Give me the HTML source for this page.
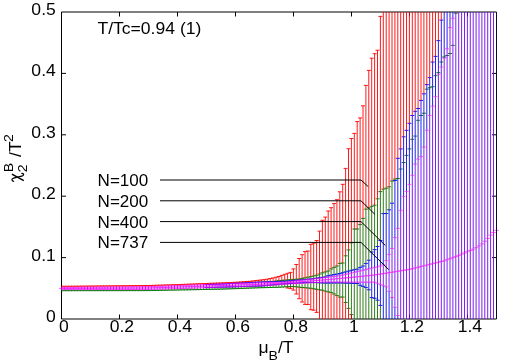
<!DOCTYPE html>
<html><head><meta charset="utf-8"><title>chart</title>
<style>html,body{margin:0;padding:0;background:#fff;}body{width:514px;height:364px;overflow:hidden;position:relative;font-family:"Liberation Sans",sans-serif;}</style>
</head><body>
<svg width="514" height="364" viewBox="0 0 514 364" style="position:absolute;left:0;top:0">
<rect width="514" height="364" fill="#ffffff"/>
<path d="M61.5 12.0H496.5V319.0H61.5Z" stroke="#000" stroke-width="1" fill="none"/>
<path d="M119.5 319.0v-4.5M119.5 12.0v4.5M177.5 319.0v-4.5M177.5 12.0v4.5M235.5 319.0v-4.5M235.5 12.0v4.5M293.5 319.0v-4.5M293.5 12.0v4.5M351.5 319.0v-4.5M351.5 12.0v4.5M409.5 319.0v-4.5M409.5 12.0v4.5M467.5 319.0v-4.5M467.5 12.0v4.5M61.5 257.6h4.5M496.5 257.6h-4.5M61.5 196.2h4.5M496.5 196.2h-4.5M61.5 134.8h4.5M496.5 134.8h-4.5M61.5 73.4h4.5M496.5 73.4h-4.5" stroke="#000" stroke-width="1" fill="none"/>
<path d="M61.50 286.30H63.40M62.30 286.27H66.30M65.20 286.25H69.20M68.10 286.22H72.10M71.00 286.19H75.00M73.90 286.17H77.90M76.80 286.14H80.80M79.70 286.11H83.70M82.60 286.09H86.60M85.50 286.06H89.50M88.40 286.03H92.40M91.30 286.01H95.30M94.20 285.98H98.20M97.10 285.95H101.10M100.00 285.93H104.00M102.90 285.90H106.90M105.80 285.87H109.80M108.70 285.85H112.70M111.60 285.82H115.60M114.50 285.79H118.50M117.40 285.77H121.40M120.30 285.74H124.30M123.20 285.71H127.20M126.10 285.69H130.10M129.00 285.66H133.00M131.90 285.63H135.90M134.80 285.61H138.80M137.70 285.58H141.70M140.60 285.55H144.60M143.50 285.53H147.50M146.40 285.50H150.40M149.30 285.41H153.30M152.20 285.32H156.20M155.10 285.23H159.10M158.00 285.14H162.00M160.90 285.05H164.90M163.80 284.96H167.80M166.70 284.87H170.70M169.60 284.78H173.60M172.50 284.69H176.50M175.40 284.60H179.40M178.30 284.49H182.30M181.20 284.38H185.20M184.10 284.26H188.10M187.00 284.15H191.00M189.90 284.04H193.90M192.80 283.93H196.80M195.70 283.81H199.70M198.60 283.70H202.60M201.50 283.59H205.50M204.40 283.48H208.40M207.30 283.36H211.30M210.20 283.25H214.20M213.10 283.14H217.10M216.00 283.03H220.00M218.90 282.91H222.90M221.80 282.80H225.80M224.70 282.68H228.70M227.60 282.55H231.60M230.50 282.43H234.50M233.40 282.30H237.40M236.30 282.10H240.30M239.20 281.90H243.20M242.10 281.70H246.10M245.00 281.50H249.00M247.90 281.30H251.90M250.80 280.96H254.80M253.70 280.62H257.70M256.60 280.28H260.60M259.50 279.94H263.50M262.40 279.60H266.40M265.30 279.20H269.30M268.20 278.50H272.20M271.10 277.90H275.10M274.00 277.20H278.00M276.90 276.50H280.90M279.80 275.40H283.80M282.70 274.30H286.70M285.60 273.30H289.60M285.60 288.00H289.60M288.50 272.40H292.50M288.50 288.60H292.50M291.40 268.90H295.40M291.40 290.10H295.40M294.30 264.50H298.30M294.30 294.00H298.30M297.20 258.50H301.20M297.20 298.70H301.20M300.10 254.70H304.10M300.10 302.00H304.10M303.00 251.60H307.00M303.00 304.40H307.00M305.90 251.00H309.90M305.90 304.50H309.90M308.80 244.40H312.80M308.80 309.70H312.80M311.70 243.20H315.70M311.70 310.20H315.70M314.60 240.50H318.60M314.60 312.40H318.60M317.50 231.10H321.50M320.40 220.30H324.40M323.30 217.10H327.30M326.20 211.00H330.20M329.10 207.70H333.10M332.00 203.60H336.00M334.90 199.70H338.90M337.80 191.80H341.80M340.70 184.30H344.70M343.60 168.40H347.60M346.50 148.70H350.50M349.40 138.50H353.40M352.30 133.40H356.30M355.20 121.60H359.20M358.10 117.90H362.10M361.00 105.80H365.00M363.90 85.40H367.90M366.80 70.40H370.80M369.70 58.20H373.70M372.60 53.70H376.60M375.50 50.20H379.50M378.40 16.40H382.40" stroke="#ff0000" stroke-width="0.9" fill="none"/>
<path d="M61.50 290.70H63.40M62.30 290.70H66.30M65.20 290.69H69.20M68.10 290.69H72.10M71.00 290.69H75.00M73.90 290.68H77.90M76.80 290.68H80.80M79.70 290.68H83.70M82.60 290.67H86.60M85.50 290.67H89.50M88.40 290.67H92.40M91.30 290.66H95.30M94.20 290.66H98.20M97.10 290.66H101.10M100.00 290.65H104.00M102.90 290.65H106.90M105.80 290.65H109.80M108.70 290.64H112.70M111.60 290.64H115.60M114.50 290.64H118.50M117.40 290.63H121.40M120.30 290.63H124.30M123.20 290.63H127.20M126.10 290.62H130.10M129.00 290.62H133.00M131.90 290.62H135.90M134.80 290.61H138.80M137.70 290.61H141.70M140.60 290.61H144.60M143.50 290.60H147.50M146.40 290.60H150.40M149.30 290.54H153.30M152.20 290.48H156.20M155.10 290.43H159.10M158.00 290.37H162.00M160.90 290.31H164.90M163.80 290.25H167.80M166.70 290.20H170.70M169.60 290.14H173.60M172.50 290.08H176.50M175.40 290.02H179.40M178.30 289.97H182.30M181.20 289.91H185.20M184.10 289.85H188.10M187.00 289.79H191.00M189.90 289.73H193.90M192.80 289.68H196.80M195.70 289.62H199.70M198.60 289.56H202.60M201.50 289.50H205.50M204.40 289.45H208.40M207.30 289.39H211.30M210.20 289.33H214.20M213.10 289.27H217.10M216.00 289.22H220.00M218.90 289.16H222.90M221.80 289.10H225.80M224.70 288.99H228.70M227.60 288.88H231.60M230.50 288.78H234.50M233.40 288.67H237.40M236.30 288.56H240.30M239.20 288.45H243.20M242.10 288.35H246.10M245.00 288.24H249.00M247.90 288.13H251.90M250.80 288.02H254.80M253.70 287.92H257.70M256.60 287.81H260.60M259.50 287.70H263.50M262.40 287.63H266.40M265.30 287.57H269.30M268.20 287.50H272.20M271.10 287.43H275.10M274.00 281.07H278.00M274.00 287.37H278.00M276.90 280.75H280.90M276.90 287.30H280.90M279.80 280.43H283.80M279.80 287.10H283.80M282.70 280.10H286.70M282.70 286.90H286.70M285.60 279.88H289.60M285.60 286.70H289.60M288.50 279.66H292.50M288.50 286.60H292.50M291.40 279.44H295.40M291.40 286.50H295.40M294.30 279.22H298.30M294.30 286.85H298.30M297.20 279.00H301.20M297.20 287.20H301.20M300.10 278.40H304.10M300.10 287.48H304.10M303.00 277.80H307.00M303.00 287.75H307.00M305.90 277.20H309.90M305.90 288.02H309.90M308.80 276.60H312.80M308.80 288.30H312.80M311.70 275.90H315.70M311.70 288.80H315.70M314.60 275.20H318.60M314.60 289.30H318.60M317.50 274.00H321.50M317.50 289.80H321.50M320.40 272.80H324.40M320.40 290.30H324.40M323.30 271.90H327.30M323.30 291.10H327.30M326.20 271.00H330.20M326.20 291.90H330.20M329.10 268.90H333.10M329.10 292.60H333.10M332.00 267.40H336.00M332.00 294.00H336.00M334.90 266.00H338.90M334.90 295.60H338.90M337.80 263.40H341.80M337.80 297.10H341.80M340.70 263.00H344.70M340.70 297.10H344.70M343.60 255.80H347.60M343.60 302.50H347.60M346.50 249.90H350.50M346.50 308.40H350.50M349.40 242.80H353.40M349.40 314.60H353.40M352.30 229.00H356.30M355.20 229.00H359.20M358.10 224.60H362.10M361.00 218.40H365.00M363.90 209.20H367.90M366.80 207.80H370.80M369.70 206.30H373.70M372.60 205.20H376.60M375.50 198.80H379.50M378.40 191.60H382.40M381.30 189.10H385.30M384.20 188.20H388.20M387.10 186.80H391.10M390.00 181.00H394.00M392.90 179.00H396.90M395.80 178.50H399.80M398.70 169.00H402.70M401.60 162.50H405.60M404.50 155.40H408.50M407.40 148.90H411.40M410.30 139.30H414.30M413.20 136.10H417.20M416.10 120.30H420.10M419.00 115.50H423.00M421.90 113.20H425.90M424.80 89.20H428.80M427.70 87.70H431.70M430.60 86.70H434.60M433.50 75.70H437.50M436.40 72.60H440.40M439.30 62.00H443.30M442.20 57.00H446.20M445.10 55.50H449.10M448.00 53.50H452.00M450.90 45.40H454.90M453.80 13.20H457.80" stroke="#007800" stroke-width="0.9" fill="none"/>
<path d="M204.40 284.52H208.40M204.40 287.65H208.40M207.30 284.42H211.30M207.30 287.56H211.30M210.20 284.32H214.20M210.20 287.47H214.20M213.10 284.21H217.10M213.10 287.38H217.10M216.00 284.11H220.00M216.00 287.28H220.00M218.90 284.00H222.90M218.90 287.19H222.90M221.80 283.90H225.80M221.80 287.10H225.80M224.70 283.75H228.70M224.70 287.02H228.70M227.60 283.59H231.60M227.60 286.93H231.60M230.50 283.44H234.50M230.50 286.85H234.50M233.40 283.28H237.40M233.40 286.76H237.40M236.30 283.13H240.30M236.30 286.68H240.30M239.20 282.98H243.20M239.20 286.59H243.20M242.10 282.82H246.10M242.10 286.51H246.10M245.00 282.67H249.00M245.00 286.42H249.00M247.90 282.52H251.90M247.90 286.34H251.90M250.80 282.36H254.80M250.80 286.25H254.80M253.70 282.21H257.70M253.70 286.17H257.70M256.60 282.05H260.60M256.60 286.08H260.60M259.50 281.90H263.50M259.50 286.00H263.50M262.40 281.81H266.40M262.40 285.73H266.40M265.30 281.72H269.30M265.30 285.45H269.30M268.20 281.64H272.20M268.20 285.18H272.20M271.10 281.55H275.10M271.10 284.90H275.10M274.00 281.46H278.00M274.00 284.62H278.00M276.90 281.38H280.90M276.90 284.35H280.90M279.80 281.29H283.80M279.80 284.07H283.80M282.70 281.20H286.70M282.70 283.80H286.70M285.60 280.96H289.60M285.60 283.63H289.60M288.50 280.71H292.50M288.50 283.47H292.50M291.40 280.47H295.40M291.40 283.30H295.40M294.30 280.22H298.30M294.30 283.13H298.30M297.20 279.98H301.20M297.20 282.97H301.20M300.10 279.73H304.10M300.10 282.80H304.10M303.00 279.49H307.00M303.00 282.63H307.00M305.90 279.24H309.90M305.90 282.47H309.90M308.80 279.00H312.80M308.80 282.30H312.80M311.70 278.58H315.70M311.70 282.46H315.70M314.60 278.16H318.60M314.60 282.62H318.60M317.50 277.74H321.50M317.50 282.78H321.50M320.40 277.32H324.40M320.40 282.94H324.40M323.30 276.90H327.30M323.30 283.10H327.30M326.20 275.70H330.20M326.20 283.06H330.20M329.10 275.15H333.10M329.10 283.02H333.10M332.00 274.60H336.00M332.00 282.98H336.00M334.90 274.05H338.90M334.90 282.94H338.90M337.80 273.50H341.80M337.80 282.90H341.80M340.70 272.70H344.70M340.70 283.00H344.70M343.60 271.90H347.60M343.60 283.10H347.60M346.50 271.10H350.50M346.50 283.20H350.50M349.40 270.30H353.40M349.40 283.30H353.40M352.30 269.70H356.30M352.30 283.40H356.30M355.20 269.10H359.20M355.20 283.50H359.20M358.10 267.40H362.10M358.10 285.30H362.10M361.00 266.00H365.00M361.00 286.40H365.00M363.90 263.40H367.90M363.90 287.60H367.90M366.80 260.20H370.80M366.80 289.80H370.80M369.70 252.00H373.70M369.70 297.60H373.70M372.60 249.60H376.60M372.60 298.30H376.60M375.50 246.50H379.50M375.50 300.20H379.50M378.40 240.50H382.40M378.40 305.40H382.40M381.30 213.60H385.30M384.20 213.50H388.20M387.10 209.80H391.10M390.00 203.20H394.00M392.90 180.50H396.90M395.80 158.30H399.80M398.70 148.90H402.70M401.60 136.80H405.60M404.50 130.30H408.50M407.40 123.30H411.40M410.30 115.50H414.30M413.20 111.30H417.20M416.10 108.50H420.10M419.00 100.40H423.00M421.90 93.80H425.90M424.80 84.60H428.80M427.70 77.60H431.70M430.60 62.00H434.60M433.50 56.40H437.50M436.40 40.60H440.40M439.30 20.10H443.30" stroke="#0000ff" stroke-width="0.9" fill="none"/>
<path d="M61.40 289.90V290.70M64.30 289.90V290.70M67.20 289.89V290.69M70.10 289.89V290.69M73.00 289.89V290.69M75.90 289.88V290.68M78.80 289.88V290.68M81.70 289.88V290.68M84.60 289.87V290.67M87.50 289.87V290.67M90.40 289.87V290.67M93.30 289.86V290.66M96.20 289.86V290.66M99.10 289.86V290.66M102.00 289.85V290.65M104.90 289.85V290.65M107.80 289.85V290.65M110.70 289.84V290.64M113.60 289.84V290.64M116.50 289.84V290.64M119.40 289.83V290.63M122.30 289.83V290.63M125.20 289.83V290.63M128.10 289.82V290.62M131.00 289.82V290.62M133.90 289.82V290.62M136.80 289.81V290.61M139.70 289.81V290.61M142.60 289.81V290.61M145.50 289.80V290.60M148.40 289.80V290.60M151.30 289.74V290.54M154.20 289.68V290.48M157.10 289.63V290.43M160.00 289.57V290.37M162.90 289.51V290.31M165.80 289.45V290.25M168.70 289.40V290.20M171.60 289.34V290.14M174.50 289.28V290.08M177.40 289.22V290.02M180.30 289.17V289.97M183.20 289.11V289.91M186.10 289.05V289.85M189.00 288.99V289.79M191.90 288.93V289.73M194.80 288.88V289.68M197.70 288.82V289.62M200.60 288.76V289.56M203.50 288.70V289.50M206.40 288.65V289.45M209.30 288.59V289.39M212.20 288.53V289.33M215.10 288.47V289.27M218.00 288.42V289.22M220.90 288.36V289.16M223.80 288.30V289.10M226.70 288.19V288.99M229.60 288.08V288.88M232.50 287.98V288.78M235.40 287.87V288.67M238.30 287.76V288.56M241.20 287.65V288.45M244.10 287.55V288.35M247.00 287.44V288.24M249.90 287.33V288.13M252.80 287.22V288.02M255.70 287.12V287.92M258.60 287.01V287.81M261.50 286.90V287.70M264.40 286.83V287.63M267.30 286.77V287.57M270.20 286.70V287.50M273.10 286.63V287.43M276.00 286.57V287.37M278.90 286.50V287.30M281.80 286.40V287.10M284.70 286.30V286.90" stroke="#007800" stroke-width="0.9" fill="none"/>
<path d="M61.40 286.30V287.40M64.30 286.27V287.37M67.20 286.25V287.35M70.10 286.22V287.32M73.00 286.19V287.29M75.90 286.17V287.27M78.80 286.14V287.24M81.70 286.11V287.21M84.60 286.09V287.19M87.50 286.06V287.16M90.40 286.03V287.13M93.30 286.01V287.11M96.20 285.98V287.08M99.10 285.95V287.05M102.00 285.93V287.03M104.90 285.90V287.00M107.80 285.87V286.97M110.70 285.85V286.95M113.60 285.82V286.92M116.50 285.79V286.89M119.40 285.77V286.87M122.30 285.74V286.84M125.20 285.71V286.81M128.10 285.69V286.79M131.00 285.66V286.76M133.90 285.63V286.73M136.80 285.61V286.71M139.70 285.58V286.68M142.60 285.55V286.65M145.50 285.53V286.63M148.40 285.50V286.60M151.30 285.41V286.50M154.20 285.32V286.39M157.10 285.23V286.29M160.00 285.14V286.18M162.90 285.05V286.08M165.80 284.96V285.98M168.70 284.87V285.87M171.60 284.78V285.77M174.50 284.69V285.67M177.40 284.60V285.56M180.30 284.49V285.46M183.20 284.38V285.35M186.10 284.26V285.25M189.00 284.15V285.15M191.90 284.04V285.04M194.80 283.93V284.94M197.70 283.81V284.83M200.60 283.70V284.73M203.50 283.59V284.63M206.40 283.48V284.52M209.30 283.36V284.42M212.20 283.25V284.32M215.10 283.14V284.21M218.00 283.03V284.11M220.90 282.91V284.00M223.80 282.80V283.90M226.70 282.68V283.75M229.60 282.55V283.59M232.50 282.43V283.44M235.40 282.30V283.28M238.30 282.10V283.13M241.20 281.90V282.98M244.10 281.70V282.82M247.00 281.50V282.67M249.90 281.30V282.52M252.80 280.96V282.36M255.70 280.62V282.21M258.60 280.28V282.05M261.50 279.94V281.90M264.40 279.60V281.77M267.30 279.20V281.65M270.20 278.50V281.52M273.10 277.90V281.40M276.00 277.20V281.07M278.90 276.50V280.75M281.80 275.40V280.43M284.70 274.30V280.10M287.60 273.30V279.88M287.60 286.70V288.00M290.50 272.40V279.66M290.50 286.60V288.60M293.40 268.90V279.44M293.40 286.50V290.10M296.30 264.50V279.22M296.30 286.85V294.00M299.20 258.50V279.00M299.20 287.20V298.70M302.10 254.70V278.40M302.10 287.48V302.00M305.00 251.60V277.80M305.00 287.75V304.40M307.90 251.00V277.20M307.90 288.02V304.50M310.80 244.40V276.60M310.80 288.30V309.70M313.70 243.20V275.90M313.70 288.80V310.20M316.60 240.50V275.20M316.60 289.30V312.40M319.50 231.10V274.00M319.50 289.80V319.00M322.40 220.30V272.80M322.40 290.30V319.00M325.30 217.10V271.90M325.30 291.10V319.00M328.20 211.00V271.00M328.20 291.90V319.00M331.10 207.70V268.90M331.10 292.60V319.00M334.00 203.60V267.40M334.00 294.00V319.00M336.90 199.70V266.00M336.90 295.60V319.00M339.80 191.80V263.40M339.80 297.10V319.00M342.70 184.30V263.00M342.70 297.10V319.00M345.60 168.40V255.80M345.60 302.50V319.00M348.50 148.70V249.90M348.50 308.40V319.00M351.40 138.50V242.80M351.40 314.60V319.00M354.30 133.40V229.00M357.20 121.60V229.00M360.10 117.90V224.60M363.00 105.80V218.40M365.90 85.40V209.20M368.80 70.40V207.80M371.70 58.20V206.30M374.60 53.70V205.20M377.50 50.20V198.80M380.40 16.40V191.60M383.30 12.00V189.10M386.20 12.00V188.20M389.10 12.00V186.80M392.00 12.00V181.00M394.90 12.00V179.00M397.80 12.00V158.30M400.70 12.00V148.90M403.60 12.00V136.80M406.50 12.00V130.30M409.40 12.00V123.30M412.30 12.00V115.50M415.20 12.00V111.30M418.10 12.00V108.50M421.00 12.00V100.40M423.90 12.00V93.80M426.80 12.00V84.60M429.70 12.00V77.60M432.60 12.00V62.00M435.50 12.00V56.40M438.40 12.00V40.60M441.30 12.00V20.10" stroke="#ff0000" stroke-width="0.9" fill="none"/>
<path d="M397.80 158.30V178.50M400.70 148.90V169.00M403.60 136.80V162.50M406.50 130.30V155.40M409.40 123.30V148.90M412.30 115.50V139.30M415.20 111.30V136.10M418.10 108.50V120.30M421.00 100.40V115.50M423.90 93.80V113.20M426.80 84.60V89.20M429.70 77.60V87.70M432.60 62.00V86.70M435.50 56.40V75.70M438.40 40.60V72.60M441.30 20.10V62.00M444.20 12.00V57.00M447.10 12.00V48.80M450.00 12.00V27.60M452.90 12.00V18.30" stroke="#1900e6" stroke-width="0.9" fill="none"/>
<path d="M447.10 48.80V55.50M450.00 27.60V53.50M452.90 18.30V45.40M455.80 12.00V13.20" stroke="#7a00f0" stroke-width="0.9" fill="none"/>
<path d="M61.40 289.60V289.90M64.30 289.60V289.90M67.20 289.59V289.89M70.10 289.59V289.89M73.00 289.59V289.89M75.90 289.58V289.88M78.80 289.58V289.88M81.70 289.58V289.88M84.60 289.57V289.87M87.50 289.57V289.87M90.40 289.57V289.87M93.30 289.56V289.86M96.20 289.56V289.86M99.10 289.56V289.86M102.00 289.55V289.85M104.90 289.55V289.85M107.80 289.55V289.85M110.70 289.54V289.84M113.60 289.54V289.84M116.50 289.54V289.84M119.40 289.53V289.83M122.30 289.53V289.83M125.20 289.53V289.83M128.10 289.52V289.82M131.00 289.52V289.82M133.90 289.52V289.82M136.80 289.51V289.81M139.70 289.51V289.81M142.60 289.51V289.81M145.50 289.50V289.80M148.40 289.50V289.80M151.30 289.41V289.74M154.20 289.32V289.68M157.10 289.22V289.63M160.00 289.13V289.57M162.90 289.04V289.51M165.80 288.95V289.45M168.70 288.85V289.40M171.60 288.76V289.34M174.50 288.67V289.28M177.40 288.58V289.22M180.30 288.48V289.17M183.20 288.39V289.11M186.10 288.30V289.05M189.00 288.21V288.99M191.90 288.12V288.93M194.80 288.02V288.88M197.70 287.93V288.82M200.60 287.84V288.76M203.50 287.75V288.70M206.40 287.65V288.65M209.30 287.56V288.59M212.20 287.47V288.53M215.10 287.38V288.47M218.00 287.28V288.42M220.90 287.19V288.36M223.80 287.10V288.30M226.70 287.02V288.19M229.60 286.93V288.08M232.50 286.85V287.98M235.40 286.76V287.87M238.30 286.68V287.76M241.20 286.59V287.65M244.10 286.51V287.55M247.00 286.42V287.44M249.90 286.34V287.33M252.80 286.25V287.22M255.70 286.17V287.12M258.60 286.08V287.01M261.50 286.00V286.90M264.40 281.77V281.81M264.40 285.73V286.83M267.30 281.65V281.72M267.30 285.45V286.77M270.20 281.52V281.64M270.20 285.20V286.70M273.10 281.40V281.55M273.10 285.00V286.63M276.00 281.07V281.46M276.00 284.80V286.57M278.90 280.75V281.38M278.90 284.60V286.50M281.80 280.43V281.29M281.80 284.40V286.40M284.70 280.10V281.20M284.70 284.20V286.30M287.60 279.88V280.96M287.60 284.04V286.70M290.50 279.66V280.71M290.50 283.89V286.60M293.40 279.44V280.47M293.40 283.73V286.50M296.30 279.22V280.22M296.30 283.57V286.85M299.20 279.00V279.98M299.20 283.41V287.20M302.10 278.40V279.73M302.10 283.26V287.48M305.00 277.80V279.49M305.00 283.10V287.75M307.90 277.20V279.24M307.90 282.94V288.02M310.80 276.60V279.00M310.80 282.79V288.30M313.70 275.90V278.58M313.70 282.63V288.80M316.60 275.20V278.16M316.60 282.62V289.30M319.50 274.00V277.74M319.50 282.78V289.80M322.40 272.80V277.32M322.40 282.94V290.30M325.30 271.90V276.90M325.30 283.10V291.10M328.20 271.00V275.70M328.20 283.06V291.90M331.10 268.90V275.15M331.10 283.02V292.60M334.00 267.40V274.60M334.00 282.98V294.00M336.90 266.00V274.05M336.90 282.94V295.60M339.80 263.40V273.50M339.80 282.90V297.10M342.70 263.00V272.70M342.70 283.00V297.10M345.60 255.80V271.90M345.60 283.10V302.50M348.50 249.90V271.10M348.50 283.20V308.40M351.40 242.80V270.30M351.40 283.30V314.60M354.30 229.00V269.70M354.30 283.40V319.00M357.20 229.00V269.10M357.20 283.50V319.00M360.10 224.60V267.40M360.10 285.30V319.00M363.00 218.40V266.00M363.00 286.40V319.00M365.90 209.20V263.40M365.90 287.60V319.00M368.80 207.80V260.20M368.80 289.80V319.00M371.70 206.30V252.00M371.70 297.60V319.00M374.60 205.20V249.60M374.60 298.30V319.00M377.50 198.80V246.50M377.50 300.20V319.00M380.40 191.60V240.50M380.40 305.40V319.00M383.30 189.10V213.60M386.20 188.20V213.50M389.10 186.80V209.80M392.00 181.00V203.20M394.90 179.00V180.50" stroke="#196c00" stroke-width="0.9" fill="none"/>
<path d="M226.70 283.75V283.82M226.70 287.00V287.02M229.60 283.59V283.73M229.60 286.90V286.93M232.50 283.44V283.65M232.50 286.80V286.85M235.40 283.28V283.56M235.40 286.70V286.76M238.30 283.13V283.48M238.30 286.60V286.68M241.20 282.98V283.39M241.20 286.50V286.59M244.10 282.82V283.31M244.10 286.40V286.51M247.00 282.67V283.22M247.00 286.30V286.42M249.90 282.52V283.14M249.90 286.20V286.34M252.80 282.36V283.05M252.80 286.10V286.25M255.70 282.21V282.97M255.70 286.00V286.17M258.60 282.05V282.88M258.60 285.90V286.08M261.50 281.90V282.80M261.50 285.80V286.00M264.40 281.81V282.70M264.40 285.60V285.73M267.30 281.72V282.60M267.30 285.40V285.45M270.20 281.64V282.50M273.10 281.55V282.40M276.00 281.46V282.30M278.90 281.38V282.20M281.80 281.29V282.10M284.70 281.20V282.00M287.60 280.96V281.68M290.50 280.71V281.36M293.40 280.47V281.04M296.30 280.22V280.71M299.20 279.98V280.39M302.10 279.73V280.07M305.00 279.49V279.75M307.90 279.24V279.43M310.80 279.00V279.11M313.70 278.58V278.79M316.60 278.16V278.46M316.60 282.47V282.62M319.50 277.74V278.14M319.50 282.31V282.78M322.40 277.32V277.82M322.40 282.16V282.94M325.30 276.90V277.50M325.30 282.00V283.10M328.20 275.70V277.14M328.20 282.02V283.06M331.10 275.15V276.78M331.10 282.04V283.02M334.00 274.60V276.42M334.00 282.07V282.98M336.90 274.05V276.06M336.90 282.09V282.94M339.80 273.50V275.70M339.80 282.11V282.90M342.70 272.70V275.02M342.70 282.13V283.00M345.60 271.90V274.35M345.60 282.16V283.10M348.50 271.10V273.68M348.50 282.18V283.20M351.40 270.30V273.00M351.40 282.20V283.30M354.30 269.70V272.32M354.30 282.20V283.40M357.20 269.10V271.64M357.20 282.20V283.50M360.10 267.40V270.96M360.10 282.20V285.30M363.00 266.00V270.28M363.00 282.20V286.40M365.90 263.40V269.60M365.90 282.20V287.60M368.80 260.20V268.87M368.80 282.20V289.80M371.70 252.00V268.13M371.70 282.20V297.60M374.60 249.60V267.40M374.60 282.20V298.30M377.50 246.50V266.80M377.50 283.30V300.20M380.40 240.50V266.00M380.40 284.60V305.40M383.30 213.60V264.70M383.30 285.70V319.00M386.20 213.50V260.60M386.20 286.80V319.00M389.10 209.80V254.40M389.10 291.30V319.00M392.00 203.20V248.50M392.00 297.40V319.00M394.90 180.50V237.60M394.90 307.30V319.00M397.80 178.50V228.40M397.80 315.50V319.00M400.70 169.00V210.40M403.60 162.50V196.40M406.50 155.40V191.40M409.40 148.90V184.40M412.30 139.30V175.40M415.20 136.10V164.10M418.10 120.30V159.20M421.00 115.50V156.60M423.90 113.20V147.10M426.80 89.20V130.30M429.70 87.70V115.50M432.60 86.70V106.20M435.50 75.70V96.60M438.40 72.60V74.30M441.30 62.00V67.10M444.20 57.00V58.00" stroke="#030be6" stroke-width="0.9" fill="none"/>
<path d="M61.40 287.40V289.60M64.30 287.37V289.60M67.20 287.35V289.59M70.10 287.32V289.59M73.00 287.29V289.59M75.90 287.27V289.58M78.80 287.24V289.58M81.70 287.21V289.58M84.60 287.19V289.57M87.50 287.16V289.57M90.40 287.13V289.57M93.30 287.11V289.56M96.20 287.08V289.56M99.10 287.05V289.56M102.00 287.03V289.55M104.90 287.00V289.55M107.80 286.97V289.55M110.70 286.95V289.54M113.60 286.92V289.54M116.50 286.89V289.54M119.40 286.87V289.53M122.30 286.84V289.53M125.20 286.81V289.53M128.10 286.79V289.52M131.00 286.76V289.52M133.90 286.73V289.52M136.80 286.71V289.51M139.70 286.68V289.51M142.60 286.65V289.51M145.50 286.63V289.50M148.40 286.60V289.50M151.30 286.50V289.41M154.20 286.39V289.32M157.10 286.29V289.22M160.00 286.18V289.13M162.90 286.08V289.04M165.80 285.98V288.95M168.70 285.87V288.85M171.60 285.77V288.76M174.50 285.67V288.67M177.40 285.56V288.58M180.30 285.46V288.48M183.20 285.35V288.39M186.10 285.25V288.30M189.00 285.15V288.21M191.90 285.04V288.12M194.80 284.94V288.02M197.70 284.83V287.93M200.60 284.73V287.84M203.50 284.63V287.75M206.40 284.52V287.65M209.30 284.42V287.56M212.20 284.32V287.47M215.10 284.21V287.38M218.00 284.11V287.28M220.90 284.00V287.19M223.80 283.90V287.10M226.70 283.82V287.00M229.60 283.73V286.90M232.50 283.65V286.80M235.40 283.56V286.70M238.30 283.48V286.60M241.20 283.39V286.50M244.10 283.31V286.40M247.00 283.22V286.30M249.90 283.14V286.20M252.80 283.05V286.10M255.70 282.97V286.00M258.60 282.88V285.90M261.50 282.80V285.80M264.40 282.70V285.60M267.30 282.60V285.40M270.20 282.50V285.18M273.10 282.40V284.90M276.00 282.30V284.62M278.90 282.20V284.35M281.80 282.10V284.07M284.70 282.00V283.80M287.60 281.68V283.63M290.50 281.36V283.47M293.40 281.04V283.30M296.30 280.71V283.13M299.20 280.39V282.97M302.10 280.07V282.80M305.00 279.75V282.63M307.90 279.43V282.47M310.80 279.11V282.30M313.70 278.79V282.46M316.60 278.46V282.47M319.50 278.14V282.31M322.40 277.82V282.16M325.30 277.50V282.00M328.20 277.14V282.02M331.10 276.78V282.04M334.00 276.42V282.07M336.90 276.06V282.09M339.80 275.70V282.11M342.70 275.02V282.13M345.60 274.35V282.16M348.50 273.68V282.18M351.40 273.00V282.20M354.30 272.32V282.20M357.20 271.64V282.20M360.10 270.96V282.20M363.00 270.28V282.20M365.90 269.60V282.20M368.80 268.87V282.20M371.70 268.13V282.20M374.60 267.40V282.20M377.50 266.80V283.30M380.40 266.00V284.60M383.30 264.70V285.70M386.20 260.60V286.80M389.10 254.40V291.30M392.00 248.50V297.40M394.90 237.60V307.30M397.80 228.40V315.50M400.70 210.40V319.00M403.60 196.40V319.00M406.50 191.40V319.00M409.40 184.40V319.00M412.30 175.40V319.00M415.20 164.10V319.00M418.10 159.20V319.00M421.00 156.60V319.00M423.90 147.10V319.00M426.80 130.30V319.00M429.70 115.50V319.00M432.60 106.20V319.00M435.50 96.60V319.00M438.40 74.30V319.00M441.30 67.10V319.00M444.20 58.00V319.00M447.10 55.50V319.00M450.00 53.50V319.00M452.90 45.40V319.00M455.80 13.20V319.00M458.70 12.00V319.00M461.60 12.00V319.00M464.50 12.00V319.00M467.40 12.00V319.00M470.30 12.00V319.00M473.20 12.00V319.00M476.10 12.00V319.00M479.00 12.00V319.00M481.90 12.00V319.00M484.80 12.00V319.00M487.70 12.00V319.00M490.60 12.00V319.00M493.50 12.00V319.00" stroke="#6d06f0" stroke-width="0.9" fill="none"/>
<path d="M270.20 285.18V285.20M273.10 284.90V285.00M276.00 284.62V284.80M278.90 284.35V284.60M281.80 284.07V284.40M284.70 283.80V284.20M287.60 283.63V284.04M290.50 283.47V283.89M293.40 283.30V283.73M296.30 283.13V283.57M299.20 282.97V283.41M302.10 282.80V283.26M305.00 282.63V283.10M307.90 282.47V282.94M310.80 282.30V282.79M313.70 282.46V282.63" stroke="#7a3f6b" stroke-width="0.9" fill="none"/>
<path d="M61.50 287.40H63.40M61.50 289.60H63.40M62.30 287.37H66.30M62.30 289.60H66.30M65.20 287.35H69.20M65.20 289.59H69.20M68.10 287.32H72.10M68.10 289.59H72.10M71.00 287.29H75.00M71.00 289.59H75.00M73.90 287.27H77.90M73.90 289.58H77.90M76.80 287.24H80.80M76.80 289.58H80.80M79.70 287.21H83.70M79.70 289.58H83.70M82.60 287.19H86.60M82.60 289.57H86.60M85.50 287.16H89.50M85.50 289.57H89.50M88.40 287.13H92.40M88.40 289.57H92.40M91.30 287.11H95.30M91.30 289.56H95.30M94.20 287.08H98.20M94.20 289.56H98.20M97.10 287.05H101.10M97.10 289.56H101.10M100.00 287.03H104.00M100.00 289.55H104.00M102.90 287.00H106.90M102.90 289.55H106.90M105.80 286.97H109.80M105.80 289.55H109.80M108.70 286.95H112.70M108.70 289.54H112.70M111.60 286.92H115.60M111.60 289.54H115.60M114.50 286.89H118.50M114.50 289.54H118.50M117.40 286.87H121.40M117.40 289.53H121.40M120.30 286.84H124.30M120.30 289.53H124.30M123.20 286.81H127.20M123.20 289.53H127.20M126.10 286.79H130.10M126.10 289.52H130.10M129.00 286.76H133.00M129.00 289.52H133.00M131.90 286.73H135.90M131.90 289.52H135.90M134.80 286.71H138.80M134.80 289.51H138.80M137.70 286.68H141.70M137.70 289.51H141.70M140.60 286.65H144.60M140.60 289.51H144.60M143.50 286.63H147.50M143.50 289.50H147.50M146.40 286.60H150.40M146.40 289.50H150.40M149.30 286.50H153.30M149.30 289.41H153.30M152.20 286.39H156.20M152.20 289.32H156.20M155.10 286.29H159.10M155.10 289.22H159.10M158.00 286.18H162.00M158.00 289.13H162.00M160.90 286.08H164.90M160.90 289.04H164.90M163.80 285.98H167.80M163.80 288.95H167.80M166.70 285.87H170.70M166.70 288.85H170.70M169.60 285.77H173.60M169.60 288.76H173.60M172.50 285.67H176.50M172.50 288.67H176.50M175.40 285.56H179.40M175.40 288.58H179.40M178.30 285.46H182.30M178.30 288.48H182.30M181.20 285.35H185.20M181.20 288.39H185.20M184.10 285.25H188.10M184.10 288.30H188.10M187.00 285.15H191.00M187.00 288.21H191.00M189.90 285.04H193.90M189.90 288.12H193.90M192.80 284.94H196.80M192.80 288.02H196.80M195.70 284.83H199.70M195.70 287.93H199.70M198.60 284.73H202.60M198.60 287.84H202.60M201.50 284.63H205.50M201.50 287.75H205.50M204.40 284.52H208.40M204.40 287.65H208.40M207.30 284.42H211.30M207.30 287.56H211.30M210.20 284.32H214.20M210.20 287.47H214.20M213.10 284.21H217.10M213.10 287.38H217.10M216.00 284.11H220.00M216.00 287.28H220.00M218.90 284.00H222.90M218.90 287.19H222.90M221.80 283.90H225.80M221.80 287.10H225.80M224.70 283.82H228.70M224.70 287.00H228.70M227.60 283.73H231.60M227.60 286.90H231.60M230.50 283.65H234.50M230.50 286.80H234.50M233.40 283.56H237.40M233.40 286.70H237.40M236.30 283.48H240.30M236.30 286.60H240.30M239.20 283.39H243.20M239.20 286.50H243.20M242.10 283.31H246.10M242.10 286.40H246.10M245.00 283.22H249.00M245.00 286.30H249.00M247.90 283.14H251.90M247.90 286.20H251.90M250.80 283.05H254.80M250.80 286.10H254.80M253.70 282.97H257.70M253.70 286.00H257.70M256.60 282.88H260.60M256.60 285.90H260.60M259.50 282.80H263.50M259.50 285.80H263.50M262.40 282.70H266.40M262.40 285.60H266.40M265.30 282.60H269.30M265.30 285.40H269.30M268.20 282.50H272.20M268.20 285.20H272.20M271.10 282.40H275.10M271.10 285.00H275.10M274.00 282.30H278.00M274.00 284.80H278.00M276.90 282.20H280.90M276.90 284.60H280.90M279.80 282.10H283.80M279.80 284.40H283.80M282.70 282.00H286.70M282.70 284.20H286.70M285.60 281.68H289.60M285.60 284.04H289.60M288.50 281.36H292.50M288.50 283.89H292.50M291.40 281.04H295.40M291.40 283.73H295.40M294.30 280.71H298.30M294.30 283.57H298.30M297.20 280.39H301.20M297.20 283.41H301.20M300.10 280.07H304.10M300.10 283.26H304.10M303.00 279.75H307.00M303.00 283.10H307.00M305.90 279.43H309.90M305.90 282.94H309.90M308.80 279.11H312.80M308.80 282.79H312.80M311.70 278.79H315.70M311.70 282.63H315.70M314.60 278.46H318.60M314.60 282.47H318.60M317.50 278.14H321.50M317.50 282.31H321.50M320.40 277.82H324.40M320.40 282.16H324.40M323.30 277.50H327.30M323.30 282.00H327.30M326.20 277.14H330.20M326.20 282.02H330.20M329.10 276.78H333.10M329.10 282.04H333.10M332.00 276.42H336.00M332.00 282.07H336.00M334.90 276.06H338.90M334.90 282.09H338.90M337.80 275.70H341.80M337.80 282.11H341.80M340.70 275.02H344.70M340.70 282.13H344.70M343.60 274.35H347.60M343.60 282.16H347.60M346.50 273.68H350.50M346.50 282.18H350.50M349.40 273.00H353.40M349.40 282.20H353.40M352.30 272.32H356.30M352.30 282.20H356.30M355.20 271.64H359.20M355.20 282.20H359.20M358.10 270.96H362.10M358.10 282.20H362.10M361.00 270.28H365.00M361.00 282.20H365.00M363.90 269.60H367.90M363.90 282.20H367.90M366.80 268.87H370.80M366.80 282.20H370.80M369.70 268.13H373.70M369.70 282.20H373.70M372.60 267.40H376.60M372.60 282.20H376.60M375.50 266.80H379.50M375.50 283.30H379.50M378.40 266.00H382.40M378.40 284.60H382.40M381.30 264.70H385.30M381.30 285.70H385.30M384.20 260.60H388.20M384.20 286.80H388.20M387.10 254.40H391.10M387.10 291.30H391.10M390.00 248.50H394.00M390.00 297.40H394.00M392.90 237.60H396.90M392.90 307.30H396.90M395.80 228.40H399.80M395.80 315.50H399.80M398.70 210.40H402.70M401.60 196.40H405.60M404.50 191.40H408.50M407.40 184.40H411.40M410.30 175.40H414.30M413.20 164.10H417.20M416.10 159.20H420.10M419.00 156.60H423.00M421.90 147.10H425.90M424.80 130.30H428.80M427.70 115.50H431.70M430.60 106.20H434.60M433.50 96.60H437.50M436.40 74.30H440.40M439.30 67.10H443.30M442.20 58.00H446.20M445.10 48.80H449.10M448.00 27.60H452.00M450.90 18.30H454.90" stroke="#ff00ff" stroke-width="0.9" stroke-opacity="0.68" fill="none"/>
<path d="M59.10 288.50H63.70M62.00 288.48H66.60M64.90 288.47H69.50M67.80 288.45H72.40M70.70 288.43H75.30M73.60 288.42H78.20M76.50 288.40H81.10M79.40 288.38H84.00M82.30 288.37H86.90M85.20 288.35H89.80M88.10 288.33H92.70M91.00 288.32H95.60M93.90 288.30H98.50M96.80 288.28H101.40M99.70 288.27H104.30M102.60 288.25H107.20M105.50 288.23H110.10M108.40 288.22H113.00M111.30 288.20H115.90M114.20 288.18H118.80M117.10 288.17H121.70M120.00 288.15H124.60M122.90 288.13H127.50M125.80 288.12H130.40M128.70 288.10H133.30M131.60 288.08H136.20M134.50 288.07H139.10M137.40 288.05H142.00M140.30 288.03H144.90M143.20 288.02H147.80M146.10 288.00H150.70M149.00 287.90H153.60M151.90 287.81H156.50M154.80 287.71H159.40M157.70 287.62H162.30M160.60 287.52H165.20M163.50 287.42H168.10M166.40 287.33H171.00M169.30 287.23H173.90M172.20 287.13H176.80M175.10 287.04H179.70M178.00 286.94H182.60M180.90 286.85H185.50M183.80 286.75H188.40M186.70 286.65H191.30M189.60 286.56H194.20M192.50 286.46H197.10M195.40 286.37H200.00M198.30 286.27H202.90M201.20 286.17H205.80M204.10 286.08H208.70M207.00 285.98H211.60M209.90 285.88H214.50M212.80 285.79H217.40M215.70 285.69H220.30M218.60 285.60H223.20M221.50 285.50H226.10M224.40 285.41H229.00M227.30 285.32H231.90M230.20 285.22H234.80M233.10 285.13H237.70M236.00 285.04H240.60M238.90 284.95H243.50M241.80 284.85H246.40M244.70 284.76H249.30M247.60 284.67H252.20M250.50 284.58H255.10M253.40 284.48H258.00M256.30 284.39H260.90M259.20 284.30H263.80M262.10 284.14H266.70M265.00 283.98H269.60M267.90 283.81H272.50M270.80 283.65H275.40M273.70 283.49H278.30M276.60 283.32H281.20M279.50 283.16H284.10M282.40 283.00H287.00M285.30 282.77H289.90M288.20 282.54H292.80M291.10 282.31H295.70M294.00 282.09H298.60M296.90 281.86H301.50M299.80 281.63H304.40M302.70 281.40H307.30M305.60 281.17H310.20M308.50 280.94H313.10M311.40 280.71H316.00M314.30 280.49H318.90M317.20 280.26H321.80M320.10 280.03H324.70M323.00 279.80H327.60M325.90 279.53H330.50M328.80 279.27H333.40M331.70 279.00H336.30M334.60 278.73H339.20M337.50 278.47H342.10M340.40 278.20H345.00M343.30 277.93H347.90M346.20 277.67H350.80M349.10 277.40H353.70M352.00 277.10H356.60M354.90 276.80H359.50M357.80 276.50H362.40M360.70 276.20H365.30M363.60 275.90H368.20M366.50 275.60H371.10M369.40 275.30H374.00M372.30 275.00H376.90M375.20 274.53H379.80M378.10 274.07H382.70M381.00 273.60H385.60M383.90 273.13H388.50M386.80 272.67H391.40M389.70 272.20H394.30M392.60 271.73H397.20M395.50 271.27H400.10M398.40 270.80H403.00M401.30 270.33H405.90M404.20 269.87H408.80M407.10 269.40H411.70M410.00 268.68H414.60M412.90 267.97H417.50M415.80 267.25H420.40M418.70 266.53H423.30M421.60 265.82H426.20M424.50 265.10H429.10M427.40 264.38H432.00M430.30 263.67H434.90M433.20 262.95H437.80M436.10 262.23H440.70M439.00 261.52H443.60M441.90 260.80H446.50M444.80 259.75H449.40M447.70 258.70H452.30M450.60 257.65H455.20M453.50 256.60H458.10M456.40 255.37H461.00M459.30 254.13H463.90M462.20 252.90H466.80M465.10 251.67H469.70M468.00 250.43H472.60M470.90 249.20H475.50M473.80 247.70H478.40M476.70 245.90H481.30M479.60 243.90H484.20M482.50 241.20H487.10M485.40 238.40H490.00M488.30 235.10H492.90M491.20 232.50H495.80M494.10 230.40H498.70" stroke="#ff00ff" stroke-width="0.9" stroke-opacity="0.68" fill="none"/>
<path d="M496.5 12.0V319.0" stroke="#0c0830" stroke-width="1" fill="none"/>
<path d="M160 180.0H361L368.2 186.6M160 200.8H361L375.0 214.4M160 221.6H361L385.3 245.4M160 242.4H361L388.7 269.6" stroke="#000" stroke-width="1" fill="none"/>
<g font-family="Liberation Sans, sans-serif" font-size="16.9" fill="#000" style="opacity:0.999">
<text transform="translate(63.90,331.80) scale(1.04,1)" text-anchor="middle">0</text>
<text transform="translate(121.90,331.80) scale(1.04,1)" text-anchor="middle">0.2</text>
<text transform="translate(179.90,331.80) scale(1.04,1)" text-anchor="middle">0.4</text>
<text transform="translate(237.90,331.80) scale(1.04,1)" text-anchor="middle">0.6</text>
<text transform="translate(295.90,331.80) scale(1.04,1)" text-anchor="middle">0.8</text>
<text transform="translate(353.90,331.80) scale(1.04,1)" text-anchor="middle">1</text>
<text transform="translate(411.90,331.80) scale(1.04,1)" text-anchor="middle">1.2</text>
<text transform="translate(469.90,331.80) scale(1.04,1)" text-anchor="middle">1.4</text>
<text transform="translate(55.80,321.90) scale(1.04,1)" text-anchor="end">0</text>
<text transform="translate(55.80,260.50) scale(1.04,1)" text-anchor="end">0.1</text>
<text transform="translate(55.80,199.10) scale(1.04,1)" text-anchor="end">0.2</text>
<text transform="translate(55.80,137.70) scale(1.04,1)" text-anchor="end">0.3</text>
<text transform="translate(55.80,76.30) scale(1.04,1)" text-anchor="end">0.4</text>
<text transform="translate(55.80,14.90) scale(1.04,1)" text-anchor="end">0.5</text>
<text transform="translate(97.40,33.80) scale(1.04,1)" text-anchor="start">T/Tc=0.94 (1)</text>
<text transform="translate(97.60,186.00) scale(1.01,1)" text-anchor="start">N=100</text>
<text transform="translate(97.60,206.80) scale(1.01,1)" text-anchor="start">N=200</text>
<text transform="translate(97.60,227.60) scale(1.01,1)" text-anchor="start">N=400</text>
<text transform="translate(97.60,248.40) scale(1.01,1)" text-anchor="start">N=737</text>
<text transform="translate(258.40,353.00) scale(1.04,1)" text-anchor="start">&#956;<tspan font-size="13.5" dy="7">B</tspan><tspan dy="-7">/T</tspan></text>
<g transform="translate(20.6,181.5) rotate(-90)">
<path d="M7.4 -8.7L0.8 3.2" stroke="#000" stroke-width="1.5" fill="none"/><path d="M0.2 -6.9C0.4 -8.5 1.8 -9.1 2.7 -8.3C3.7 -7.4 4.0 -5 4.5 -2.9C5.0 -0.8 5.2 1.4 6.0 2.5C6.8 3.5 8.1 3.0 8.2 1.2" stroke="#000" stroke-width="1.2" stroke-linecap="round" fill="none"/>
<text transform="translate(9.30,6.60) scale(1.04,1)" text-anchor="start" font-size="13.5">2</text>
<text transform="translate(9.15,-7.40) scale(1.04,1)" text-anchor="start" font-size="13.5">B</text>
<text transform="translate(24.50,0.00) scale(1.04,1)" text-anchor="start">/T</text>
<text transform="translate(39.50,-7.40) scale(1.04,1)" text-anchor="start" font-size="13.5">2</text>
</g>
</g>
</svg>
</body></html>
